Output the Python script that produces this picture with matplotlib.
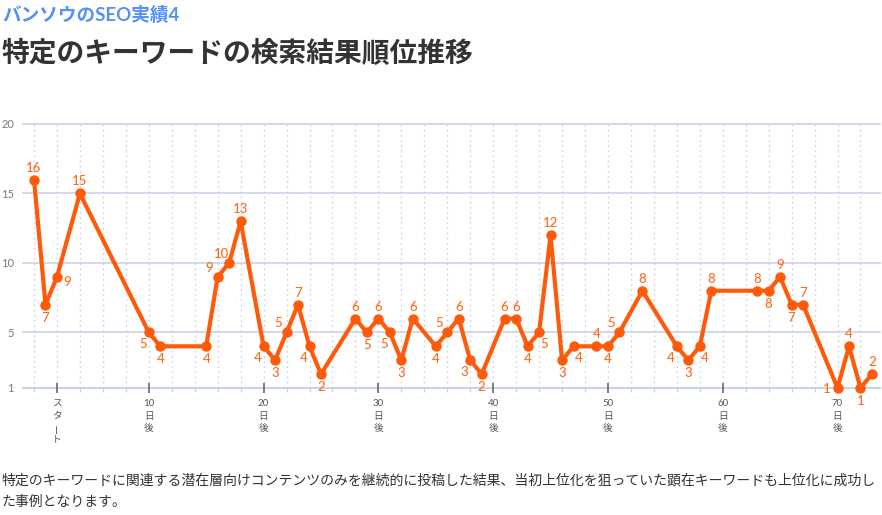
import matplotlib
matplotlib.use("Agg")
import matplotlib.pyplot as plt

plt.rcParams['font.family'] = ['Lato', 'Noto Sans CJK JP', 'DejaVu Sans']

# Data: day index and ranking on that day
days = [0, 1, 2, 4, 10, 11, 15, 16, 17, 18, 20, 21, 22, 23, 24, 25, 28, 29, 30,
        31, 32, 33, 35, 36, 37, 38, 39, 41, 42, 43, 44, 45, 46, 47, 49, 50, 51,
        53, 56, 57, 58, 59, 63, 64, 65, 66, 67, 70, 71, 72, 73]
ranks = [16, 7, 9, 15, 5, 4, 4, 9, 10, 13, 4, 3, 5, 7, 4, 2, 6, 5, 6,
         5, 3, 6, 4, 5, 6, 3, 2, 6, 6, 4, 5, 12, 3, 4, 4, 4, 5,
         8, 4, 3, 4, 8, 8, 8, 9, 7, 7, 1, 4, 1, 2]
# where each value label sits relative to its point
label_pos = ['a', 'b', 'r', 'a', 'lb', 'b', 'b', 'la', 'la', 'a', 'lb', 'b', 'la', 'a',
             'lb', 'b', 'a', 'b', 'a', 'lb', 'b', 'a', 'b', 'la', 'a', 'lb', 'b', 'a',
             'a', 'b', 'rb', 'a', 'b', 'rb', 'a', 'b', 'la', 'a', 'lb', 'b', 'rb', 'a',
             'a', 'b', 'a', 'b', 'a', 'l', 'a', 'b', 'a']

tick_days = [2, 10, 20, 30, 40, 50, 60, 70]
tick_labels = ['スタート', '10\n日\n後', '20\n日\n後', '30\n日\n後', '40\n日\n後',
               '50\n日\n後', '60\n日\n後', '70\n日\n後']
y_ticks = [1, 5, 10, 15, 20]

subtitle = 'バンソウのSEO実績4'
title = '特定のキーワードの検索結果順位推移'
note = ('特定のキーワードに関連する潜在層向けコンテンツのみを継続的に投稿した結果、当初上位化を狙っていた顕在キーワードも上位化に成功し\n'
        'た事例となります。')

ORANGE = '#ff5a0a'
LABEL_ORANGE = '#ff6a1c'
GRID = '#c9d3e8'
W, H = 882, 515

# offsets in pixels -> points
OFFS = {'a': (0, 12), 'b': (0, -13), 'r': (10, -5), 'l': (-11, -1),
        'la': (-8, 9), 'lb': (-6, -12), 'rb': (5, -12)}
px = 72 / 100

fig = plt.figure(figsize=(W / 100, H / 100), dpi=100)
ax = fig.add_axes([23 / W, 1 - 388 / H, (880 - 23) / W, (388 - 124) / H])

ax.set_xlim(-0.96, 73.7)
ax.set_ylim(1, 20)
for s in ax.spines.values():
    s.set_visible(False)

# grid
for y in y_ticks:
    ax.axhline(y, color=GRID, lw=1.6 if y == 1 else 1.2, zorder=1, clip_on=False)
for d in range(0, 74, 2):
    ax.axvline(d, color=GRID, lw=1.0, ls=(0, (1.2, 2.5)), zorder=1)

ax.set_yticks(y_ticks)
ax.set_yticklabels([str(v) for v in y_ticks], color='#7a7a7a', fontsize=8)
ax.tick_params(axis='y', length=0, pad=6.5)

ax.set_xticks(list(range(0, 74, 2)), minor=True)
ax.tick_params(axis='x', which='minor', length=3, color=GRID, width=1)
ax.set_xticks(tick_days)
ax.set_xticklabels([])
ax.tick_params(axis='x', which='major', length=7, color='#666666', width=1.2,
               direction='inout')

# vertical x labels
for d, lab in zip(tick_days, tick_labels):
    if '\n' in lab:
        chars = lab.split('\n')
    else:
        chars = list(lab)
    for i, ch in enumerate(chars):
        rot = 90 if ch == 'ー' else 0
        ax.annotate(ch, (d, 1), xytext=(0, -(16 + 12 * i) * px), textcoords='offset points',
                    ha='center', va='center', fontsize=7, color='#555555', rotation=rot,
                    annotation_clip=False)

ax.plot(days, ranks, color=ORANGE, lw=3, marker='o', markersize=6.5,
        markerfacecolor=ORANGE, markeredgecolor=ORANGE, zorder=3, clip_on=False,
        solid_joinstyle='round')

for d, r, p in zip(days, ranks, label_pos):
    dx, dy = OFFS[p]
    ax.annotate(str(r), (d, r), xytext=(dx * px, dy * px), textcoords='offset points',
                ha='center', va='center', fontsize=9.5, color=LABEL_ORANGE,
                fontweight='medium', annotation_clip=False, zorder=4)

fig.text(2 / W, 1 - 15 / H, subtitle, color='#5591f5', fontsize=13.4, fontweight='bold',
         ha='left', va='center')
fig.text(2 / W, 1 - 53 / H, title, color='#333333', fontsize=20, fontweight='bold',
         ha='left', va='center')
fig.text(2 / W, 1 - 490 / H, note, color='#333333', fontsize=10, ha='left', va='center',
         linespacing=1.75)

fig.savefig('out.png', dpi=100)
